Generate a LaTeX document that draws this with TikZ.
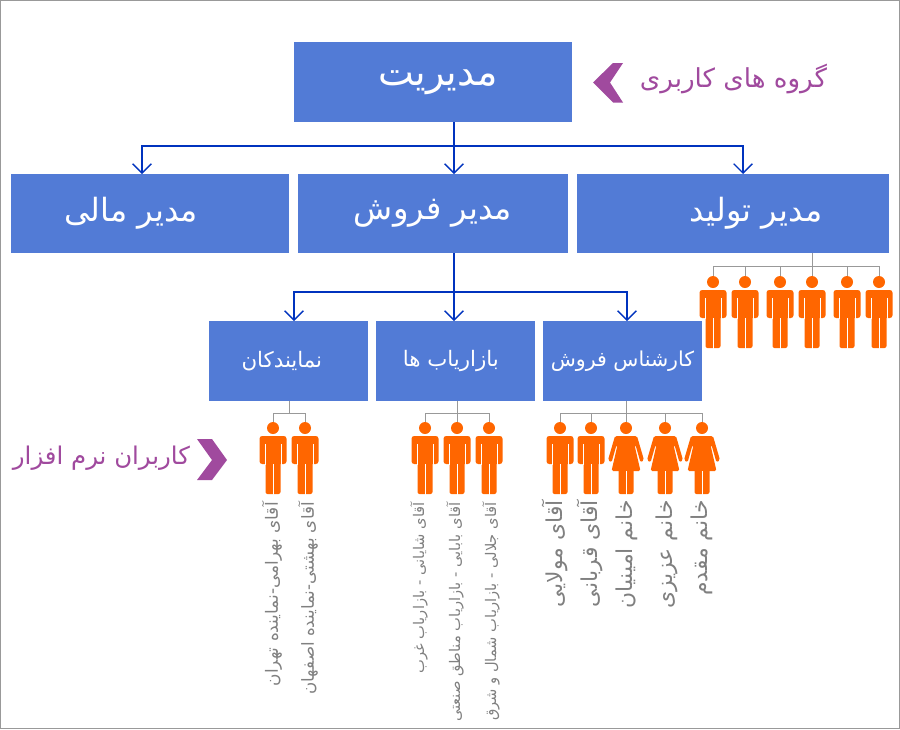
\documentclass[tikz,border=0pt]{standalone}
\usepackage{fontspec}
\newfontfamily\arabicfont[Script=Arabic]{DejaVu Sans}
\TeXXeTstate=1
\newcommand{\fa}[1]{\arabicfont\beginR #1\endR}
\definecolor{boxblue}{RGB}{82,123,214}
\definecolor{linkblue}{RGB}{0,51,190}
\definecolor{chevron}{RGB}{160,74,158}
\definecolor{figure}{RGB}{255,102,0}
\definecolor{namegray}{RGB}{128,128,128}
\tikzset{
  bigbox/.style={fill=boxblue, text=white, inner sep=0pt, minimum height=59.25pt, font=\fontsize{24}{28}\selectfont},
  smallbox/.style={fill=boxblue, text=white, inner sep=0pt, minimum width=119.25pt, minimum height=60pt, font=\fontsize{16}{19}\selectfont},
  arrowline/.style={linkblue, line width=1pt, -{Straight Barb[length=7pt,width=14pt]}},
  stemline/.style={linkblue, line width=1pt},
  treeline/.style={gray!80, line width=0.6pt},
  purpletext/.style={text=chevron, inner sep=0pt, font=\fontsize{19.6}{23}\selectfont},
  smallname/.style={rotate=90, anchor=east, text=namegray, inner sep=0pt, font=\fontsize{11}{13}\selectfont},
  bigname/.style={rotate=90, anchor=east, text=namegray, inner sep=0pt, font=\fontsize{16.4}{19}\selectfont},
  man/.pic={
    \coordinate (-top) at (0,-6);
    \fill[figure] (0,0) circle (6);
    \fill[figure, rounded corners=2pt] (-13.5,36) -- (-13.5,8) -- (13.5,8) -- (13.5,36) -- cycle;
    \fill[figure, rounded corners=1.5pt] (-7.5,30) -- (-7.5,66) -- (7.5,66) -- (7.5,30) -- cycle;
    \draw[white, line width=0.45pt] (-7.8,16) -- (-7.8,37) (7.8,16) -- (7.8,37) (0,36) -- (0,67);
  },
  woman/.pic={
    \coordinate (-top) at (0,-6);
    \fill[figure] (0,0) circle (6);
    \fill[figure, rounded corners=1.2pt] (-11,8) -- (11,8) -- (18,32) -- (14.5,34.5) -- (9.5,17) -- (8.5,17) -- (14.5,43) -- (-14.5,43) -- (-8.5,17) -- (-9.5,17) -- (-14.5,34.5) -- (-18,32) -- cycle;
    \fill[figure, rounded corners=1.5pt] (-7.5,41) -- (-7.5,66) -- (7.5,66) -- (7.5,41) -- cycle;
    \draw[white, line width=0.45pt] (0,43) -- (0,67);
  },
}
\usetikzlibrary{arrows.meta}
\begin{document}
\begin{tikzpicture}[x=0.75pt, y=-0.75pt]
    \useasboundingbox (0,0) rectangle (900,729);
    \draw[gray!80, line width=0.75pt] (0.5,0.5) rectangle (899.5,728.5);

    %boxes
    \node (modir) at (433,82) [bigbox, minimum width=208.5pt, minimum height=60pt, font=\fontsize{28.5}{33}\selectfont] {\hspace*{7.5pt}\raisebox{-2pt}{\fa{مدیریت}}};
    \node (mali) at (150,213.5) [bigbox, minimum width=208.5pt] {\fa{مدیر مالی}\hspace*{28.5pt}};
    \node (forush) at (433,213.5) [bigbox, minimum width=202.5pt] {\fa{مدیر فروش}};
    \node (tolid) at (733,213.5) [bigbox, minimum width=234pt] {\hspace*{34.5pt}\fa{مدیر تولید}};
    \node (namayande) at (288.5,361) [smallbox] {\fa{نمایندکان}\hspace*{10pt}};
    \node (bazaryab) at (455.5,361) [smallbox] {\fa{بازاریاب ها}\hspace*{7pt}};
    \node (karshenas) at (622.5,361) [smallbox, font=\fontsize{15.4}{18}\selectfont] {\fa{کارشناس فروش}};

    %figures
    \foreach \n/\x in {ta/713, tb/745, tc/780, td/812, te/847, tf/879}
        \pic (\n) at (\x,282) {man};
    \foreach \n/\x in {na/273, nb/305, ba/425, bb/457, bc/489, ka/560, kb/591}
        \pic (\n) at (\x,428) {man};
    \foreach \n/\x in {kc/626, kd/665, ke/702}
        \pic (\n) at (\x,428) {woman};

    %arrows
    \coordinate (hubtop) at (454,146);
    \coordinate (hubsales) at (454,292);
    \coordinate (tomali) at (142,174);
    \coordinate (toforush) at (454,174);
    \coordinate (totolid) at (743,174);
    \coordinate (tonamayande) at (294,321);
    \coordinate (tobazaryab) at (454,321);
    \coordinate (tokarshenas) at (627,321);
    \draw[stemline] (modir.south -| hubtop) -- (hubtop);
    \draw[stemline] (forush.south -| hubsales) -- (hubsales);
    \draw[arrowline] (hubtop) -| (tomali);
    \draw[arrowline] (hubtop) -- (toforush);
    \draw[arrowline] (hubtop) -| (totolid);
    \draw[arrowline] (hubsales) -| (tonamayande);
    \draw[arrowline] (hubsales) -- (tobazaryab);
    \draw[arrowline] (hubsales) -| (tokarshenas);

    %tree lines
    \coordinate (bust) at (812,266);
    \coordinate (busn) at (289,413);
    \coordinate (busb) at (457,413);
    \coordinate (busk) at (626,413.5);
    \draw[treeline] (tolid.south -| bust) -- (bust);
    \draw[treeline] (namayande.south -| busn) -- (busn);
    \draw[treeline] (bazaryab.south -| busb) -- (busb);
    \draw[treeline] (karshenas.south -| busk) -- (busk);
    \foreach \n in {ta,tb,tc,td,te,tf}
        \draw[treeline] (bust) -| (\n-top);
    \foreach \n in {na,nb}
        \draw[treeline] (busn) -| (\n-top);
    \foreach \n in {ba,bb,bc}
        \draw[treeline] (busb) -| (\n-top);
    \foreach \n in {ka,kb,kc,kd,ke}
        \draw[treeline] (busk) -| (\n-top);

    %names
    \node (nameA) at (272,502) [smallname, font=\fontsize{12.7}{15}\selectfont] {\fa{آقای بهرامی-نماینده تهران}};
    \node (nameB) at (308,502) [smallname, font=\fontsize{12.5}{15}\selectfont] {\fa{آقای بهشتی-نماینده اصفهان}};
    \node (nameC) at (419,502) [smallname] {\fa{آقای شایانی - بازاریاب غرب}};
    \node (nameD) at (455,502) [smallname] {\fa{آقای بابایی - بازاریاب مناطق صنعتی}};
    \node (nameE) at (491,502) [smallname] {\fa{آقای جلالی - بازاریاب شمال و شرق}};
    \node (nameF) at (555,500) [bigname] {\fa{آقای مولایی}};
    \node (nameG) at (590,500) [bigname] {\fa{آقای قربانی}};
    \node (nameH) at (627,500) [bigname] {\fa{خانم امینیان}};
    \node (nameI) at (667,500) [bigname] {\fa{خانم عزیزی}};
    \node (nameJ) at (702,500) [bigname] {\fa{خانم مقدم}};

    %chevrons
    \fill[chevron] (593,82.5) -- (613,63) -- (623,63) -- (610,82.5) -- (623,102.5) -- (613,102.5) -- cycle;
    \fill[chevron] (227,460) -- (212,439) -- (197,439) -- (212,460) -- (197,480) -- (212,480) -- cycle;
    \node (groups) at (733.5,79) [purpletext] {\fa{گروه های کاربری}};
    \node (users) at (101.5,458) [purpletext, font=\fontsize{18.3}{22}\selectfont] {\fa{کاربران نرم افزار}};
\end{tikzpicture}
\end{document}
